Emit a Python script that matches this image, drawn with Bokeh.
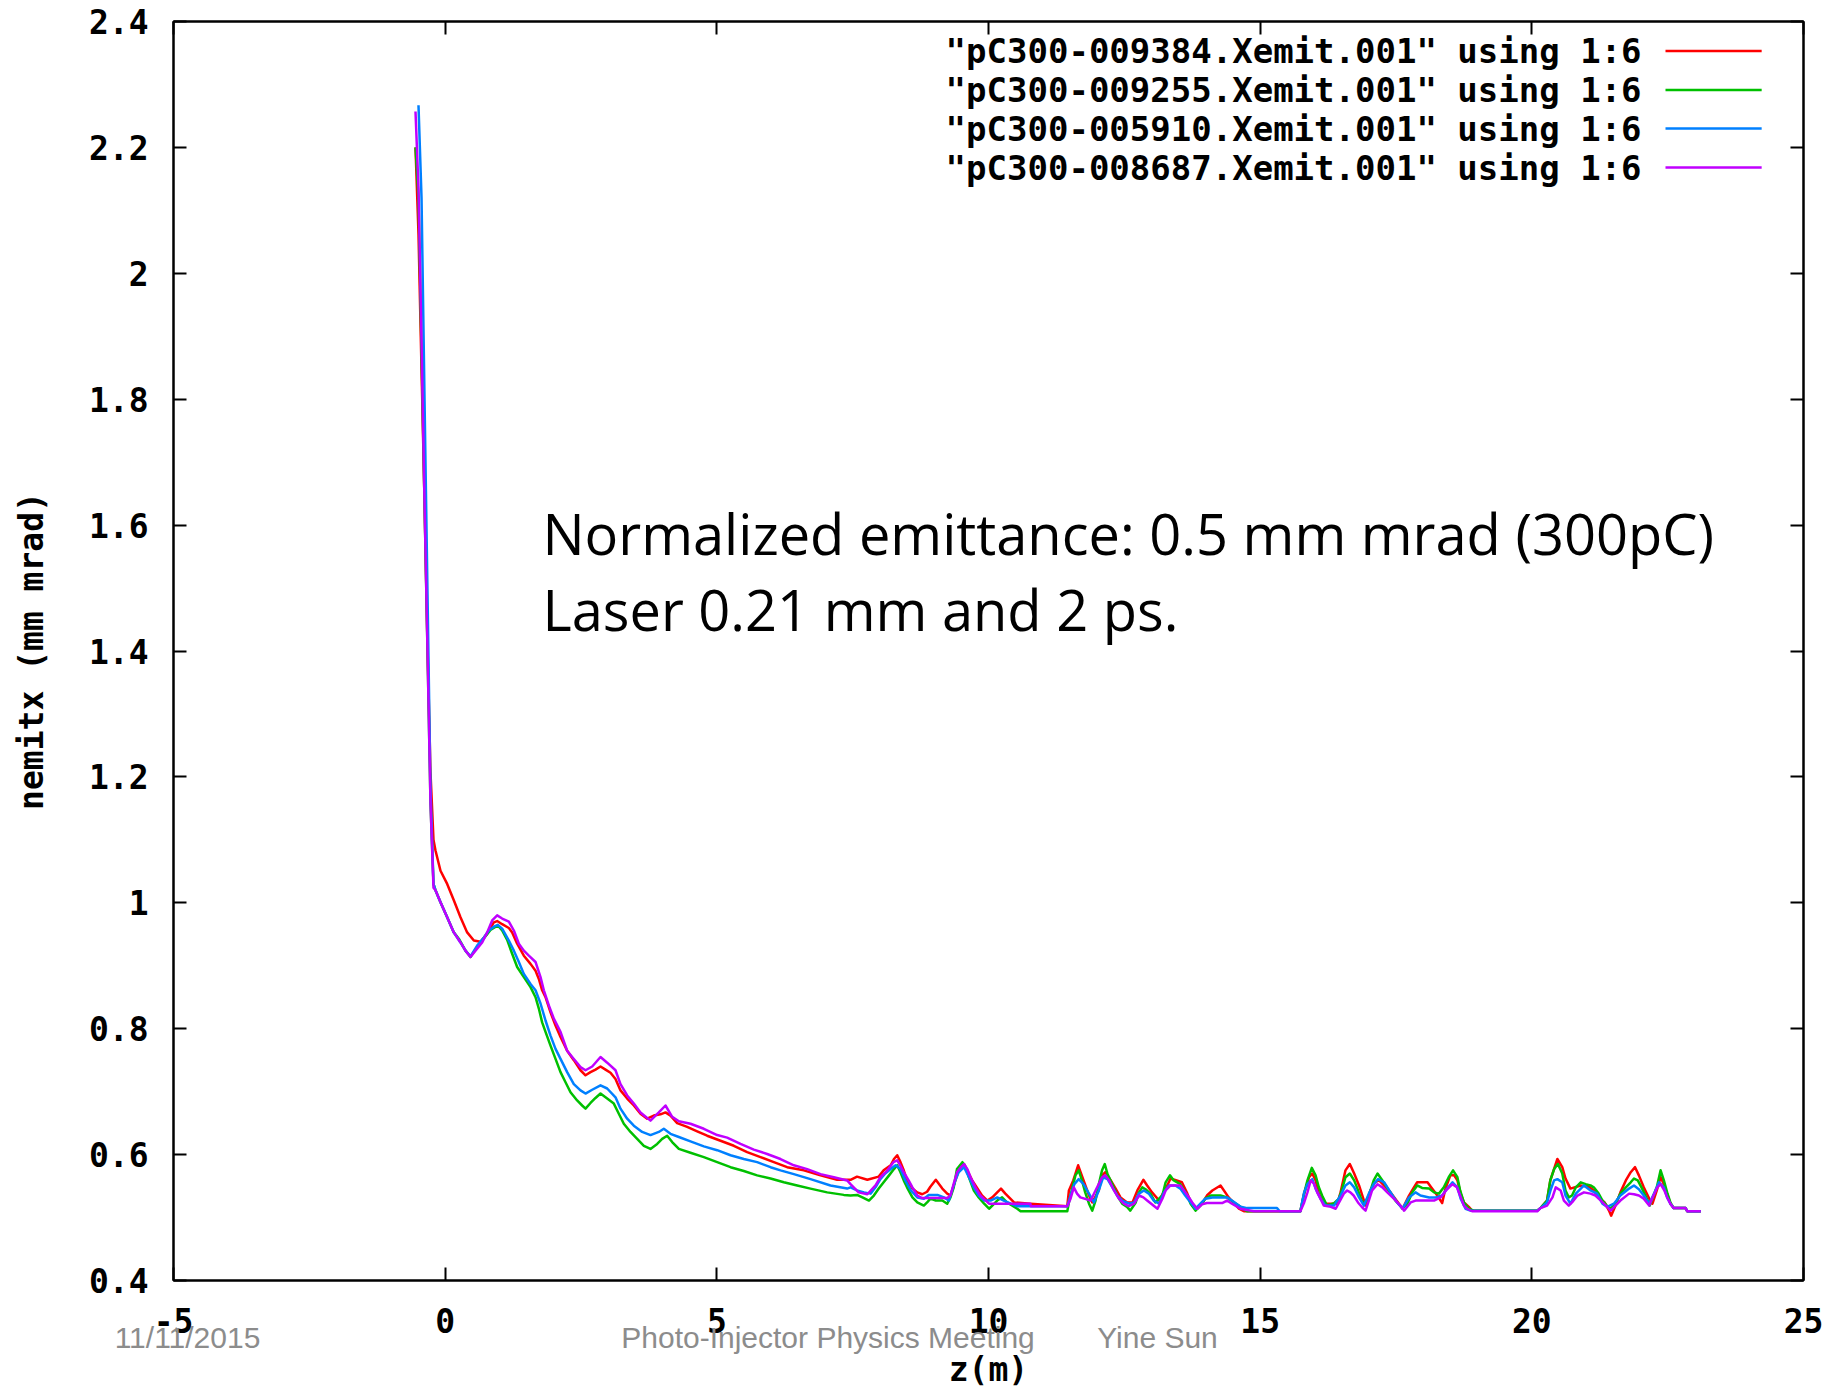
from bokeh.plotting import figure
from bokeh.models import (Range1d, LinearAxis, FixedTicker, CustomJSTickFormatter, Label,
                          CustomLabelingPolicy)
from bokeh.embed import file_html
from bokeh.resources import INLINE

# ---------------- data ----------------
red_z = [-0.546, -0.491, -0.435, -0.380, -0.325, -0.270, -0.215, -0.178, -0.086, 0.037, 0.159, 0.282, 0.405, 0.528,
         0.650, 0.773, 0.896, 0.957, 1.049, 1.172, 1.233, 1.325, 1.448, 1.571, 1.663, 1.724, 1.785, 1.847, 1.939,
         2.031, 2.123, 2.245, 2.368, 2.491, 2.583, 2.675, 2.767, 2.859, 2.951, 3.043, 3.135, 3.227, 3.350, 3.472,
         3.595, 3.718, 3.840, 3.963, 4.055, 4.147, 4.270, 4.454, 4.638, 4.822, 5.068, 5.313, 5.558, 5.804, 6.049,
         6.294, 6.601, 6.908, 7.215, 7.461, 7.58, 7.77, 7.98, 8.07, 8.20, 8.26, 8.32, 8.38, 8.44, 8.50, 8.60, 8.69,
         8.78, 8.87, 8.93, 9.03, 9.15, 9.24, 9.30, 9.41, 9.49, 9.55, 9.70, 9.88, 9.98, 10.07, 10.16, 10.23, 10.31,
         10.47, 10.77, 11.45, 11.48, 11.56, 11.65, 11.75, 11.85, 11.91, 12.03, 12.09, 12.15, 12.25, 12.34, 12.43,
         12.55, 12.65, 12.74, 12.85, 12.92, 13.01, 13.14, 13.29, 13.35, 13.56, 13.66, 13.75, 13.84, 13.93, 14.02,
         14.12, 14.27, 14.42, 14.61, 14.70, 15.74, 15.81, 15.90, 15.96, 16.02, 16.08, 16.17, 16.42, 16.48, 16.57,
         16.65, 16.73, 16.82, 16.94, 17.03, 17.11, 17.19, 17.40, 17.52, 17.62, 17.74, 17.83, 17.89, 18.08, 18.14,
         18.26, 18.35, 18.41, 18.50, 18.57, 18.63, 18.69, 18.75, 18.84, 18.90, 20.10, 20.16, 20.28, 20.34, 20.47,
         20.56, 20.62, 20.71, 20.90, 21.05, 21.14, 21.23, 21.34, 21.42, 21.46, 21.54, 21.63, 21.73, 21.82, 21.90,
         21.97, 22.06, 22.16, 22.22, 22.30, 22.37, 22.43, 22.49, 22.55, 22.61, 22.83, 22.86, 23.11]
red_v = [2.200, 2.063, 1.847, 1.640, 1.410, 1.207, 1.100, 1.083, 1.051, 1.030, 1.004, 0.977, 0.953, 0.940,
         0.938, 0.951, 0.969, 0.971, 0.966, 0.960, 0.953, 0.935, 0.916, 0.903, 0.892, 0.879, 0.861, 0.850, 0.826,
         0.805, 0.787, 0.765, 0.750, 0.734, 0.726, 0.731, 0.735, 0.740, 0.735, 0.730, 0.720, 0.702, 0.689, 0.678,
         0.665, 0.657, 0.662, 0.664, 0.667, 0.662, 0.650, 0.644, 0.637, 0.630, 0.622, 0.614, 0.604, 0.596, 0.588,
         0.580, 0.575, 0.567, 0.560, 0.560, 0.565, 0.560, 0.565, 0.575, 0.583, 0.593, 0.599, 0.588, 0.575, 0.559,
         0.546, 0.540, 0.537, 0.541, 0.549, 0.560, 0.546, 0.538, 0.535, 0.564, 0.583, 0.585, 0.559, 0.535, 0.527,
         0.532, 0.540, 0.546, 0.538, 0.524, 0.522, 0.518, 0.543, 0.559, 0.583, 0.559, 0.535, 0.524, 0.543, 0.567,
         0.572, 0.559, 0.546, 0.532, 0.524, 0.524, 0.543, 0.560, 0.551, 0.540, 0.527, 0.551, 0.562, 0.556, 0.538,
         0.519, 0.514, 0.522, 0.535, 0.543, 0.551, 0.532, 0.514, 0.510, 0.510, 0.538, 0.564, 0.570, 0.559, 0.538,
         0.522, 0.522, 0.540, 0.575, 0.585, 0.570, 0.551, 0.519, 0.543, 0.556, 0.559, 0.540, 0.526, 0.514, 0.535,
         0.548, 0.556, 0.556, 0.549, 0.535, 0.523, 0.546, 0.567, 0.567, 0.559, 0.538, 0.524, 0.517, 0.511, 0.511,
         0.515, 0.527, 0.559, 0.593, 0.580, 0.562, 0.546, 0.551, 0.549, 0.543, 0.532, 0.524, 0.511, 0.503, 0.519,
         0.540, 0.559, 0.572, 0.580, 0.567, 0.548, 0.530, 0.522, 0.543, 0.564, 0.553, 0.538, 0.522, 0.515, 0.515,
         0.510, 0.510]

green_z = [-0.546, -0.491, -0.435, -0.380, -0.325, -0.270, -0.215, -0.178, -0.086, 0.037, 0.159, 0.251, 0.374,
           0.466, 0.589, 0.681, 0.834, 0.969, 1.049, 1.141, 1.233, 1.325, 1.448, 1.571, 1.663, 1.724, 1.785, 1.847,
           1.939, 2.031, 2.123, 2.215, 2.307, 2.429, 2.521, 2.583, 2.675, 2.767, 2.859, 2.982, 3.104, 3.196, 3.288,
           3.411, 3.534, 3.657, 3.779, 3.902, 3.994, 4.086, 4.178, 4.301, 4.515, 4.761, 5.006, 5.252, 5.497, 5.742,
           5.988, 6.233, 6.479, 6.724, 7.031, 7.337, 7.46, 7.58, 7.68, 7.80, 7.89, 7.98, 8.07, 8.17, 8.26, 8.32,
           8.38, 8.44, 8.50, 8.60, 8.69, 8.81, 8.87, 8.93, 9.03, 9.15, 9.24, 9.30, 9.36, 9.42, 9.52, 9.58, 9.64,
           9.73, 9.82, 9.92, 10.01, 10.07, 10.16, 10.25, 10.34, 10.44, 10.53, 10.59, 11.45, 11.48, 11.54, 11.60,
           11.66, 11.72, 11.78, 11.85, 11.91, 11.97, 12.03, 12.09, 12.14, 12.19, 12.28, 12.37, 12.46, 12.55, 12.61,
           12.71, 12.77, 12.83, 12.89, 12.98, 13.07, 13.20, 13.26, 13.34, 13.41, 13.53, 13.66, 13.72, 13.81, 13.90,
           13.99, 14.09, 14.27, 14.39, 14.52, 14.64, 14.76, 15.74, 15.80, 15.87, 15.95, 16.02, 16.08, 16.14, 16.23,
           16.36, 16.45, 16.51, 16.57, 16.65, 16.73, 16.79, 16.87, 16.92, 17.00, 17.09, 17.16, 17.25, 17.37, 17.49,
           17.62, 17.71, 17.80, 17.89, 17.98, 18.11, 18.20, 18.29, 18.38, 18.47, 18.55, 18.63, 18.68, 18.75, 18.84,
           18.93, 20.10, 20.16, 20.28, 20.34, 20.41, 20.48, 20.56, 20.62, 20.68, 20.74, 20.81, 20.90, 20.99, 21.08,
           21.14, 21.23, 21.30, 21.38, 21.45, 21.54, 21.63, 21.73, 21.82, 21.88, 21.95, 22.03, 22.09, 22.17, 22.24,
           22.30, 22.37, 22.43, 22.49, 22.55, 22.61, 22.83, 22.86, 23.11]
green_v = [2.200, 2.120, 1.876, 1.636, 1.400, 1.158, 1.030, 1.020, 1.001, 0.977, 0.953, 0.943, 0.924,
           0.914, 0.930, 0.940, 0.957, 0.964, 0.956, 0.941, 0.919, 0.898, 0.882, 0.866, 0.850, 0.832, 0.810, 0.795,
           0.773, 0.752, 0.731, 0.715, 0.699, 0.686, 0.678, 0.673, 0.682, 0.690, 0.697, 0.689, 0.681, 0.665, 0.649,
           0.636, 0.625, 0.614, 0.609, 0.617, 0.625, 0.630, 0.620, 0.609, 0.603, 0.596, 0.588, 0.580, 0.574, 0.567,
           0.562, 0.556, 0.551, 0.546, 0.540, 0.536, 0.535, 0.536, 0.532, 0.527, 0.535, 0.546, 0.556, 0.567, 0.577,
           0.583, 0.572, 0.559, 0.548, 0.532, 0.524, 0.519, 0.524, 0.530, 0.527, 0.527, 0.522, 0.532, 0.548, 0.577,
           0.588, 0.580, 0.564, 0.543, 0.532, 0.522, 0.514, 0.519, 0.527, 0.532, 0.524, 0.519, 0.514, 0.510, 0.510,
           0.524, 0.546, 0.567, 0.575, 0.559, 0.540, 0.522, 0.511, 0.527, 0.553, 0.575, 0.585, 0.569, 0.553, 0.535,
           0.522, 0.517, 0.511, 0.524, 0.540, 0.548, 0.545, 0.538, 0.524, 0.535, 0.556, 0.567, 0.559, 0.553, 0.535,
           0.522, 0.511, 0.519, 0.530, 0.535, 0.535, 0.532, 0.524, 0.517, 0.510, 0.510, 0.535, 0.559, 0.579, 0.567,
           0.548, 0.535, 0.519, 0.523, 0.530, 0.546, 0.564, 0.570, 0.559, 0.546, 0.527, 0.522, 0.535, 0.559, 0.570,
           0.559, 0.543, 0.527, 0.515, 0.522, 0.540, 0.551, 0.547, 0.546, 0.540, 0.538, 0.548, 0.564, 0.575, 0.564,
           0.543, 0.524, 0.514, 0.511, 0.511, 0.515, 0.527, 0.559, 0.577, 0.585, 0.570, 0.543, 0.532, 0.535, 0.548,
           0.556, 0.553, 0.551, 0.548, 0.538, 0.527, 0.519, 0.514, 0.522, 0.538, 0.548, 0.556, 0.562, 0.559, 0.546,
           0.535, 0.519, 0.535, 0.548, 0.575, 0.559, 0.540, 0.524, 0.515, 0.515, 0.510, 0.510]

blue_z = [-0.491, -0.435, -0.380, -0.325, -0.270, -0.215, -0.178, -0.086, 0.037, 0.159, 0.282, 0.374, 0.466, 0.589,
          0.712, 0.804, 0.896, 0.969, 1.049, 1.172, 1.264, 1.356, 1.448, 1.571, 1.663, 1.755, 1.847, 1.939, 2.031,
          2.123, 2.245, 2.368, 2.491, 2.583, 2.706, 2.859, 2.982, 3.135, 3.227, 3.350, 3.472, 3.626, 3.779, 3.932,
          4.024, 4.147, 4.301, 4.515, 4.761, 5.006, 5.252, 5.497, 5.742, 5.988, 6.172, 6.417, 6.724, 7.092, 7.399,
          7.46, 7.58, 7.71, 7.83, 7.92, 8.01, 8.10, 8.20, 8.29, 8.38, 8.47, 8.57, 8.69, 8.81, 8.90, 9.06, 9.18, 9.27,
          9.33, 9.39, 9.45, 9.55, 9.64, 9.73, 9.82, 9.92, 10.04, 10.16, 10.28, 10.41, 10.53, 11.45, 11.51, 11.58,
          11.66, 11.75, 11.85, 11.94, 12.03, 12.11, 12.19, 12.28, 12.37, 12.46, 12.59, 12.68, 12.77, 12.86, 12.95,
          13.04, 13.14, 13.23, 13.32, 13.44, 13.53, 13.62, 13.72, 13.81, 13.90, 13.99, 14.12, 14.39, 14.48, 14.64,
          14.76, 15.31, 15.36, 15.74, 15.81, 15.87, 15.96, 16.02, 16.11, 16.20, 16.36, 16.48, 16.57, 16.65, 16.73,
          16.82, 16.91, 17.00, 17.09, 17.17, 17.28, 17.40, 17.52, 17.62, 17.74, 17.86, 17.95, 18.11, 18.23, 18.35,
          18.44, 18.54, 18.63, 18.69, 18.78, 18.87, 20.10, 20.16, 20.28, 20.35, 20.41, 20.47, 20.56, 20.62, 20.71,
          20.81, 20.96, 21.08, 21.20, 21.30, 21.39, 21.51, 21.63, 21.79, 21.88, 21.97, 22.06, 22.16, 22.26, 22.34,
          22.43, 22.49, 22.55, 22.61, 22.83, 22.86, 23.11]
blue_v = [2.267, 2.120, 1.800, 1.490, 1.180, 1.030, 1.020, 1.001, 0.977, 0.953, 0.937, 0.924, 0.915, 0.932,
          0.945, 0.956, 0.962, 0.965, 0.959, 0.940, 0.924, 0.906, 0.887, 0.871, 0.861, 0.840, 0.813, 0.789, 0.768,
          0.752, 0.731, 0.712, 0.702, 0.697, 0.703, 0.710, 0.705, 0.691, 0.673, 0.657, 0.646, 0.636, 0.631, 0.636,
          0.641, 0.633, 0.628, 0.621, 0.613, 0.607, 0.599, 0.593, 0.588, 0.580, 0.575, 0.569, 0.561, 0.551, 0.546,
          0.548, 0.543, 0.540, 0.538, 0.548, 0.561, 0.570, 0.577, 0.583, 0.577, 0.559, 0.543, 0.532, 0.530, 0.536,
          0.536, 0.532, 0.527, 0.543, 0.559, 0.572, 0.580, 0.564, 0.548, 0.535, 0.527, 0.527, 0.532, 0.527, 0.522,
          0.518, 0.518, 0.535, 0.553, 0.561, 0.553, 0.538, 0.524, 0.543, 0.564, 0.561, 0.548, 0.535, 0.527, 0.522,
          0.524, 0.538, 0.543, 0.538, 0.527, 0.522, 0.540, 0.551, 0.551, 0.546, 0.535, 0.524, 0.514, 0.522, 0.530,
          0.532, 0.532, 0.527, 0.517, 0.515, 0.515, 0.510, 0.510, 0.540, 0.553, 0.561, 0.546, 0.530, 0.519, 0.519,
          0.535, 0.551, 0.556, 0.548, 0.532, 0.519, 0.538, 0.553, 0.561, 0.556, 0.540, 0.524, 0.514, 0.532, 0.540,
          0.535, 0.532, 0.532, 0.535, 0.546, 0.556, 0.548, 0.530, 0.514, 0.511, 0.511, 0.515, 0.524, 0.545, 0.559,
          0.561, 0.556, 0.535, 0.522, 0.538, 0.551, 0.543, 0.538, 0.522, 0.517, 0.522, 0.535, 0.546, 0.551, 0.545,
          0.535, 0.522, 0.540, 0.556, 0.548, 0.532, 0.522, 0.515, 0.515, 0.510, 0.510]

magenta_z = [-0.546, -0.491, -0.435, -0.380, -0.325, -0.270, -0.215, -0.178, -0.086, 0.037, 0.159, 0.282, 0.374,
             0.466, 0.558, 0.681, 0.773, 0.865, 0.957, 1.049, 1.172, 1.264, 1.356, 1.448, 1.540, 1.663, 1.755, 1.816,
             1.908, 2.000, 2.123, 2.245, 2.368, 2.491, 2.583, 2.706, 2.859, 2.982, 3.135, 3.227, 3.350, 3.472, 3.595,
             3.779, 3.932, 4.055, 4.178, 4.301, 4.515, 4.761, 5.006, 5.190, 5.436, 5.681, 5.926, 6.172, 6.417, 6.663,
             6.908, 7.153, 7.399, 7.46, 7.61, 7.77, 7.92, 8.01, 8.14, 8.25, 8.32, 8.38, 8.44, 8.53, 8.60, 8.69, 8.78,
             9.24, 9.30, 9.36, 9.42, 9.49, 9.55, 9.61, 9.67, 9.76, 9.85, 9.95, 10.01, 10.77, 10.78, 11.45, 11.51,
             11.57, 11.63, 11.69, 11.88, 11.97, 12.09, 12.15, 12.22, 12.31, 12.40, 12.49, 12.58, 12.68, 12.77, 12.85,
             12.92, 13.11, 13.20, 13.26, 13.35, 13.53, 13.69, 13.75, 13.84, 13.93, 14.02, 14.30, 14.39, 14.48, 14.64,
             14.88, 15.74, 15.81, 15.87, 15.93, 15.99, 16.05, 16.11, 16.17, 16.30, 16.39, 16.47, 16.54, 16.60, 16.66,
             16.72, 16.80, 16.88, 16.94, 17.00, 17.06, 17.16, 17.25, 17.34, 17.46, 17.58, 17.65, 17.77, 17.86, 18.20,
             18.32, 18.44, 18.54, 18.62, 18.68, 18.75, 18.81, 18.90, 20.10, 20.16, 20.28, 20.38, 20.44, 20.53, 20.59,
             20.68, 20.74, 20.84, 20.96, 21.08, 21.17, 21.27, 21.36, 21.45, 21.54, 21.63, 21.79, 21.88, 21.97, 22.06,
             22.16, 22.24, 22.31, 22.37, 22.44, 22.49, 22.55, 22.61, 22.83, 22.86, 23.11]
magenta_v = [2.257, 2.135, 1.890, 1.636, 1.400, 1.158, 1.024, 1.020, 1.001, 0.977, 0.953, 0.937, 0.924,
             0.914, 0.924, 0.937, 0.953, 0.972, 0.980, 0.975, 0.970, 0.956, 0.935, 0.924, 0.916, 0.906, 0.882, 0.861,
             0.837, 0.816, 0.795, 0.765, 0.752, 0.739, 0.734, 0.740, 0.755, 0.746, 0.734, 0.712, 0.694, 0.681, 0.667,
             0.654, 0.667, 0.678, 0.660, 0.653, 0.649, 0.641, 0.631, 0.627, 0.617, 0.608, 0.601, 0.593, 0.583, 0.577,
             0.569, 0.564, 0.559, 0.553, 0.540, 0.537, 0.551, 0.564, 0.575, 0.588, 0.591, 0.582, 0.572, 0.559, 0.548,
             0.535, 0.531, 0.531, 0.535, 0.554, 0.572, 0.580, 0.585, 0.577, 0.564, 0.548, 0.535, 0.527, 0.522, 0.522,
             0.518, 0.518, 0.530, 0.548, 0.538, 0.532, 0.527, 0.543, 0.564, 0.567, 0.559, 0.543, 0.530, 0.522, 0.518,
             0.522, 0.535, 0.532, 0.527, 0.514, 0.530, 0.543, 0.551, 0.551, 0.532, 0.524, 0.514, 0.521, 0.523, 0.523,
             0.527, 0.522, 0.514, 0.510, 0.510, 0.524, 0.540, 0.559, 0.554, 0.540, 0.530, 0.519, 0.517, 0.514, 0.527,
             0.538, 0.543, 0.540, 0.535, 0.524, 0.516, 0.511, 0.527, 0.543, 0.553, 0.548, 0.540, 0.530, 0.519, 0.511,
             0.524, 0.527, 0.527, 0.532, 0.545, 0.553, 0.548, 0.535, 0.519, 0.514, 0.510, 0.510, 0.515, 0.519, 0.532,
             0.548, 0.543, 0.527, 0.519, 0.524, 0.535, 0.540, 0.538, 0.535, 0.527, 0.519, 0.511, 0.519, 0.527, 0.538,
             0.537, 0.535, 0.530, 0.519, 0.535, 0.548, 0.553, 0.543, 0.532, 0.522, 0.515, 0.515, 0.510, 0.510]

series_labels = ['"pC300-009384.Xemit.001" using 1:6',
                 '"pC300-009255.Xemit.001" using 1:6',
                 '"pC300-005910.Xemit.001" using 1:6',
                 '"pC300-008687.Xemit.001" using 1:6']
series_colors = ["#ff0000", "#00c000", "#0080ff", "#c000ff"]

x_ticks = [-5, 0, 5, 10, 15, 20, 25]
y_ticks = [0.4, 0.6, 0.8, 1.0, 1.2, 1.4, 1.6, 1.8, 2.0, 2.2, 2.4]

x_label = "z(m)"
y_label = "nemitx (mm mrad)"
note_lines = ["Normalized emittance: 0.5 mm mrad (300pC)", "Laser 0.21 mm and 2 ps."]
footer_texts = ["11/11/2015", "Photo-Injector Physics Meeting", "Yine Sun"]
footer_centers = [-4.742, 7.047, 13.11]   # text centres along z

# ---------------- figure ----------------
MONO = "DejaVu Sans Mono"
FS = "33px"

p = figure(width=1840, height=1391, x_range=Range1d(-5, 25), y_range=Range1d(0.4, 2.4),
           output_backend="svg", toolbar_location=None,
           min_border_left=173, min_border_right=37, min_border_top=21, min_border_bottom=111)
p.grid.visible = False
p.outline_line_color = "black"
p.outline_line_width = 2
p.outline_line_alpha = 1.0
p.background_fill_color = "white"
p.border_fill_color = "white"

fmt = CustomJSTickFormatter(code="return (Math.round(tick*10)/10).toString();")
no_labels = CustomLabelingPolicy(code="return new Set();")


def style_axis(ax, ticks, show_labels):
    ax.ticker = FixedTicker(ticks=ticks)
    ax.formatter = fmt
    ax.major_tick_in = 13
    ax.major_tick_out = 0
    ax.minor_tick_in = 0
    ax.minor_tick_out = 0
    ax.major_tick_line_width = 2
    ax.major_tick_line_color = "black"
    ax.axis_line_width = 2
    ax.axis_line_color = "black"
    ax.major_label_text_font = MONO
    ax.major_label_text_font_style = "bold"
    ax.major_label_text_color = "black"
    if show_labels:
        ax.major_label_text_font_size = FS
    else:
        ax.major_label_text_font_size = "0px"
        ax.major_label_policy = no_labels
        ax.major_label_standoff = 0


xa = p.xaxis[0]
style_axis(xa, x_ticks, True)
xa.major_label_standoff = 27

ya = p.yaxis[0]
style_axis(ya, y_ticks, True)
ya.major_label_standoff = 25
ya.axis_label = y_label
ya.axis_label_text_font = MONO
ya.axis_label_text_font_style = "bold"
ya.axis_label_text_font_size = FS
ya.axis_label_text_color = "black"
ya.axis_label_standoff = 35

# second row below the x axis: the slide footer texts, and the x axis title
foot_ax = LinearAxis()
foot_ax.ticker = FixedTicker(ticks=footer_centers)
foot_ax.formatter = CustomJSTickFormatter(args=dict(labels=footer_texts), code="return labels[index];")
foot_ax.axis_line_color = None
foot_ax.major_tick_line_color = None
foot_ax.minor_tick_line_color = None
foot_ax.major_tick_in = 0
foot_ax.major_tick_out = 0
foot_ax.minor_tick_in = 0
foot_ax.minor_tick_out = 0
foot_ax.major_label_standoff = -15
foot_ax.major_label_text_font = "Liberation Sans"
foot_ax.major_label_text_font_size = "30px"
foot_ax.major_label_text_color = "#8c8c8c"
foot_ax.axis_label = x_label
foot_ax.axis_label_text_font = MONO
foot_ax.axis_label_text_font_style = "bold"
foot_ax.axis_label_text_font_size = FS
foot_ax.axis_label_text_color = "black"
foot_ax.axis_label_standoff = -7
p.add_layout(foot_ax, "below")

top_ax = LinearAxis()
style_axis(top_ax, x_ticks, False)
p.add_layout(top_ax, "above")
right_ax = LinearAxis()
style_axis(right_ax, y_ticks, False)
p.add_layout(right_ax, "right")

# ---------------- data lines ----------------
for zs, vs, col in [(red_z, red_v, series_colors[0]), (green_z, green_v, series_colors[1]),
                    (blue_z, blue_v, series_colors[2]), (magenta_z, magenta_v, series_colors[3])]:
    p.line(zs, vs, line_color=col, line_width=2.5, line_join="round")

# ---------------- key (text left, sample line right) ----------------
key_rows = [2.353, 2.291, 2.230, 2.168]
for lab, col, yy in zip(series_labels, series_colors, key_rows):
    p.add_layout(Label(x=22.02, y=yy, text=lab, text_align="right", text_baseline="middle",
                       text_font=MONO, text_font_style="bold", text_font_size="34px", text_color="black"))
p.segment(x0=[22.46] * 4, x1=[24.23] * 4, y0=key_rows, y1=key_rows, line_color=series_colors, line_width=2.5)

# ---------------- annotation text ----------------
for txt, yy in zip(note_lines, [1.587, 1.466]):
    p.add_layout(Label(x=1.79, y=yy, text=txt, text_align="left", text_baseline="middle",
                       text_font="Open Sans", text_font_size="56px", text_color="black"))

open("out.html", "w").write(file_html(p, INLINE))
